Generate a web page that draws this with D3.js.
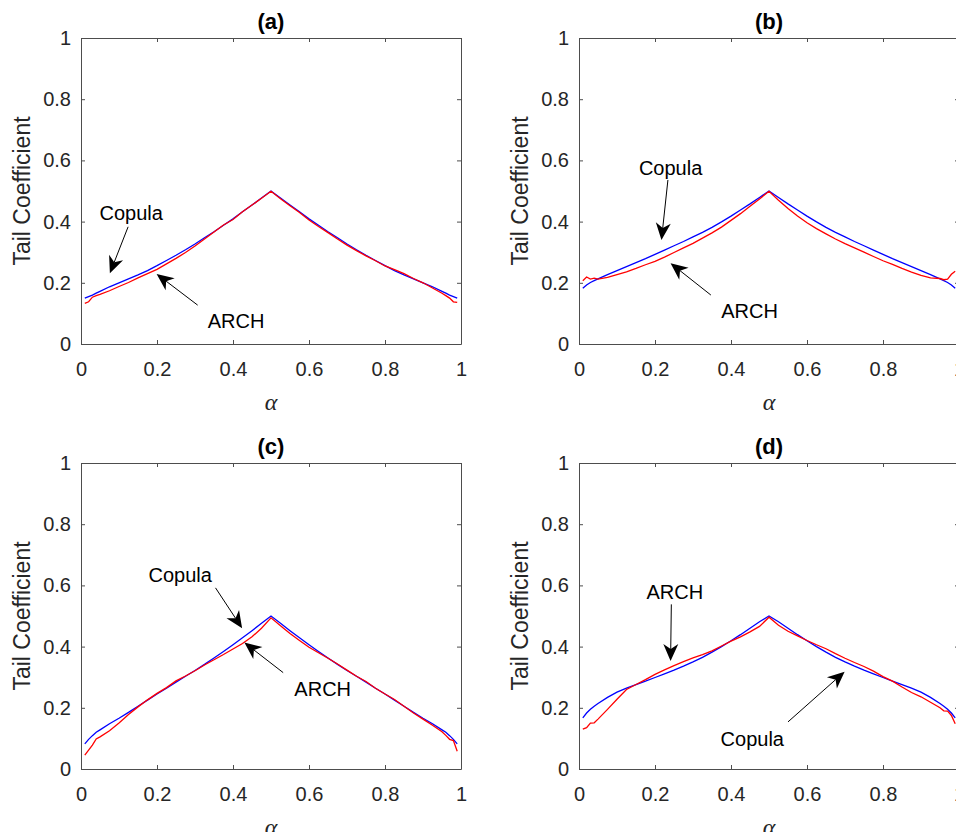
<!DOCTYPE html>
<html lang="en">
<head>
<meta charset="utf-8">
<title>Tail Coefficient</title>
<script src="https://d3js.org/d3.v7.min.js"></script>
<style>
  body { margin: 0; background: #fff; }
  svg { display: block; font-family: "Liberation Sans", Arial, Helvetica, sans-serif; }
  .axis path, .axis line { stroke: #4d4d4d; stroke-width: 1; }
  .axis text { fill: #262626; font-family: "Liberation Sans", Arial, sans-serif; font-size: 20px; }
</style>
</head>
<body>
<svg id="chart" width="956" height="832"></svg>
<script>
// alpha grid (denser near the ends)
const alpha = [0.01,0.02,0.03,0.04,0.05,0.075,0.1,0.125,0.15,0.175,0.2,0.225,0.25,0.275,0.3,0.325,0.35,0.375,0.4,0.425,0.45,0.475,0.5,
  0.525,0.55,0.575,0.6,0.625,0.65,0.675,0.7,0.725,0.75,0.775,0.8,0.825,0.85,0.875,0.9,0.925,0.95,0.96,0.97,0.98,0.99];

// panel (a)
const copulaA = [.150,.155,.160,.166,.172,.187,.200,.213,.226,.240,.256,.273,.290,.308,.327,.347,.367,.388,.409,.432,.454,.477,.500,
  .477,.454,.432,.409,.388,.367,.347,.327,.308,.290,.273,.256,.240,.226,.213,.200,.187,.172,.166,.160,.155,.150];
const archA = [.133,.138,.153,.158,.162,.174,.188,.201,.216,.230,.244,.262,.280,.299,.320,.343,.366,.389,.407,.432,.454,.476,.499,
  .475,.452,.430,.405,.384,.364,.343,.323,.305,.288,.272,.255,.243,.230,.214,.200,.183,.166,.158,.150,.138,.136];

// panel (b)
const copulaB = [.182,.193,.201,.207,.213,.227,.240,.253,.266,.279,.293,.307,.321,.335,.350,.365,.381,.399,.418,.438,.458,.479,.500,
  .479,.458,.438,.418,.399,.381,.365,.350,.335,.321,.307,.293,.279,.266,.253,.240,.227,.213,.207,.201,.193,.182];
const archB = [.207,.219,.212,.215,.212,.218,.227,.236,.247,.259,.270,.284,.299,.314,.329,.346,.363,.382,.404,.426,.450,.474,.499,
  .470,.443,.418,.396,.377,.360,.343,.328,.314,.300,.286,.272,.260,.247,.235,.224,.216,.214,.210,.212,.228,.238];

// panel (c)
const copulaC = [.082,.097,.109,.120,.128,.148,.166,.185,.205,.225,.245,.264,.284,.303,.322,.342,.363,.384,.406,.429,.452,.476,.500,
  .476,.452,.429,.406,.384,.363,.342,.322,.303,.284,.264,.245,.225,.205,.185,.166,.148,.128,.120,.109,.097,.082];
const archC = [.045,.062,.078,.098,.105,.125,.150,.178,.203,.226,.247,.266,.288,.304,.321,.340,.357,.374,.392,.410,.432,.460,.494,
  .468,.443,.420,.398,.380,.362,.343,.323,.303,.286,.264,.245,.227,.205,.183,.163,.143,.122,.110,.097,.093,.058];

// panel (d)
const copulaD = [.167,.183,.195,.205,.214,.234,.251,.264,.276,.287,.299,.311,.323,.336,.350,.365,.382,.400,.419,.439,.460,.481,.500,
  .481,.460,.439,.419,.400,.382,.365,.350,.336,.323,.311,.299,.287,.276,.264,.251,.234,.214,.205,.195,.183,.167];
const archD = [.130,.135,.150,.151,.163,.195,.228,.260,.276,.292,.309,.324,.338,.351,.363,.374,.386,.402,.418,.432,.448,.466,.496,
  .470,.450,.435,.420,.406,.393,.377,.362,.348,.335,.320,.302,.287,.268,.250,.236,.218,.200,.190,.189,.175,.148];

const xTicks = [0, 0.2, 0.4, 0.6, 0.8, 1];
const yTicks = [0, 0.2, 0.4, 0.6, 0.8, 1];
const panelTitles = ["(a)", "(b)", "(c)", "(d)"];

// text arrows, in data units: label centre, arrow tail, arrow tip
const notesA = [
  { label: "Copula", tx: 0.132, ty: 0.428, x0: 0.124, y0: 0.383, x1: 0.076, y1: 0.231 },
  { label: "ARCH",   tx: 0.408, ty: 0.076, x0: 0.307, y0: 0.127, x1: 0.199, y1: 0.229 }
];
const notesB = [
  { label: "Copula", tx: 0.241, ty: 0.576, x0: 0.234, y0: 0.536, x1: 0.217, y1: 0.340 },
  { label: "ARCH",   tx: 0.449, ty: 0.109, x0: 0.347, y0: 0.160, x1: 0.241, y1: 0.264 }
];
const notesC = [
  { label: "Copula", tx: 0.261, ty: 0.634, x0: 0.354, y0: 0.592, x1: 0.424, y1: 0.460 },
  { label: "ARCH",   tx: 0.636, ty: 0.262, x0: 0.532, y0: 0.315, x1: 0.430, y1: 0.413 }
];
const notesD = [
  { label: "ARCH",   tx: 0.252, ty: 0.579, x0: 0.243, y0: 0.538, x1: 0.241, y1: 0.353 },
  { label: "Copula", tx: 0.456, ty: 0.099, x0: 0.550, y0: 0.154, x1: 0.699, y1: 0.318 }
];

const copula = [copulaA, copulaB, copulaC, copulaD];
const arch = [archA, archB, archC, archD];
const notes = [notesA, notesB, notesC, notesD];

const W = 380, H = 306;
const layout = [[81, 38], [579, 38], [81, 463], [579, 463]];

const svg = d3.select("#chart");

layout.forEach(([left, top], i) => {
  const g = svg.append("g").attr("transform", `translate(${left},${top})`);

  const x = d3.scaleLinear().domain([0, 1]).range([0, W]);
  const y = d3.scaleLinear().domain([0, 1]).range([H, 0]);
  const fmt = d3.format("~g");

  // box with inward ticks on all sides
  g.append("g").attr("class", "axis").attr("transform", `translate(0,${H})`)
    .call(d3.axisBottom(x).tickValues(xTicks).tickFormat(fmt).tickSizeInner(-4).tickSizeOuter(0).tickPadding(18));
  g.append("g").attr("class", "axis")
    .call(d3.axisLeft(y).tickValues(yTicks).tickFormat(fmt).tickSizeInner(-4).tickSizeOuter(0).tickPadding(10));
  g.append("g").attr("class", "axis")
    .call(d3.axisTop(x).tickValues(xTicks).tickFormat("").tickSizeInner(-4).tickSizeOuter(0));
  g.append("g").attr("class", "axis").attr("transform", `translate(${W},0)`)
    .call(d3.axisRight(y).tickValues(yTicks).tickFormat("").tickSizeInner(-4).tickSizeOuter(0));

  const line = d3.line().x(d => x(d[0])).y(d => y(d[1]));

  g.append("path")
    .datum(d3.zip(alpha, copula[i]))
    .attr("d", line)
    .attr("fill", "none")
    .attr("stroke", "#0000ff")
    .attr("stroke-width", 1.3);

  g.append("path")
    .datum(d3.zip(alpha, arch[i]))
    .attr("d", line)
    .attr("fill", "none")
    .attr("stroke", "#ff0000")
    .attr("stroke-width", 1.3);

  // title and axis labels
  g.append("text")
    .attr("x", W / 2).attr("y", -9)
    .attr("text-anchor", "middle")
    .style("font-weight", "bold").style("font-size", "22px")
    .text(panelTitles[i]);

  g.append("text")
    .attr("transform", `translate(-59,${H / 2}) rotate(-90)`)
    .attr("text-anchor", "middle").attr("dy", "0.35em")
    .style("font-size", "23px").attr("fill", "#262626")
    .text("Tail Coefficient");

  g.append("text")
    .attr("x", W / 2).attr("y", H + 58).attr("dy", "0.35em")
    .attr("text-anchor", "middle")
    .style("font-family", "'Liberation Serif', 'Times New Roman', serif")
    .style("font-style", "italic").style("font-size", "24px").attr("fill", "#262626")
    .text("α");

  // text arrows
  notes[i].forEach(n => {
    const px0 = x(n.x0), py0 = y(n.y0), px1 = x(n.x1), py1 = y(n.y1);
    const len = Math.hypot(px1 - px0, py1 - py0);
    const ux = (px1 - px0) / len, uy = (py1 - py0) / len;
    const nx = -uy, ny = ux;
    const L = 17, Hw = 7.5, N = 12; // head length, half width, notch
    g.append("line")
      .attr("x1", px0).attr("y1", py0)
      .attr("x2", px1 - N * ux).attr("y2", py1 - N * uy)
      .attr("stroke", "#000").attr("stroke-width", 1);
    const head = [
      [px1, py1],
      [px1 - L * ux + Hw * nx, py1 - L * uy + Hw * ny],
      [px1 - N * ux, py1 - N * uy],
      [px1 - L * ux - Hw * nx, py1 - L * uy - Hw * ny]
    ];
    g.append("path")
      .attr("d", "M" + head.join("L") + "Z")
      .attr("fill", "#000");
    g.append("text")
      .attr("x", x(n.tx)).attr("y", y(n.ty)).attr("dy", "0.35em")
      .attr("text-anchor", "middle")
      .style("font-size", "20px").attr("fill", "#000")
      .text(n.label);
  });
});
</script>
</body>
</html>
